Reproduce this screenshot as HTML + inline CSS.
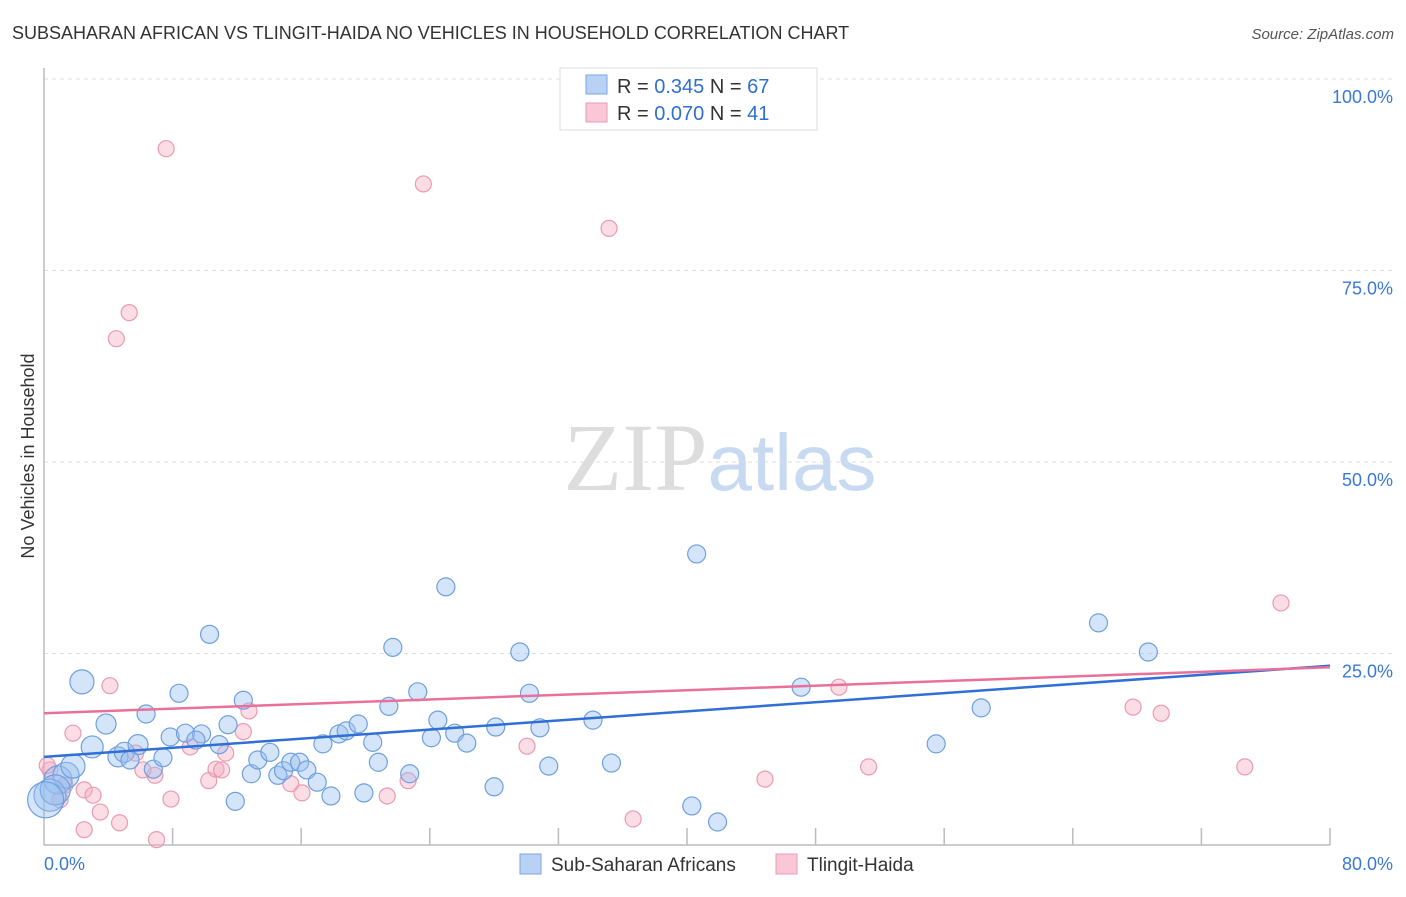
<!DOCTYPE html>
<html><head><meta charset="utf-8"><style>
body{margin:0;background:#fff;font-family:"Liberation Sans",sans-serif;}
svg text{font-family:"Liberation Sans",sans-serif;}
</style></head><body>
<svg id="chart" width="1406" height="892" xmlns="http://www.w3.org/2000/svg">
<text x="12" y="39" font-size="18" fill="#333">SUBSAHARAN AFRICAN VS TLINGIT-HAIDA NO VEHICLES IN HOUSEHOLD CORRELATION CHART</text>
<text x="1394" y="39" font-size="15" fill="#555" text-anchor="end" font-style="italic">Source: ZipAtlas.com</text>
<text x="720" y="490" font-size="96" text-anchor="middle"><tspan fill="#ddd" font-family="Liberation Serif">ZIP</tspan><tspan fill="#c8daf2" font-size="80">atlas</tspan></text>
<text transform="translate(34,456) rotate(-90)" font-size="18" fill="#333" text-anchor="middle">No Vehicles in Household</text>
<g id="grid"></g><g id="axes"></g><g id="pink"></g><g id="blue"></g><g id="trends"></g>
<g>
<rect x="560" y="68" width="257" height="62" fill="#fff" stroke="#ddd"/>
<rect x="586" y="75" width="21" height="19" fill="#b9d2f3" stroke="#7aa6e0"/>
<rect x="586" y="103" width="21" height="19" fill="#f9c7d5" stroke="#eb9ab2"/>
<text x="617" y="93" font-size="20" fill="#333">R = <tspan fill="#2e6fd0">0.345</tspan>   N = <tspan fill="#2e6fd0">67</tspan></text>
<text x="617" y="120" font-size="20" fill="#333">R = <tspan fill="#2e6fd0">0.070</tspan>   N = <tspan fill="#2e6fd0">41</tspan></text>
</g>
<g>
<rect x="520" y="854" width="21" height="20" fill="#b9d2f3" stroke="#7aa6e0"/>
<text x="551" y="871" font-size="19" fill="#333">Sub-Saharan Africans</text>
<rect x="776" y="854" width="21" height="20" fill="#f9c7d5" stroke="#eb9ab2"/>
<text x="807" y="871" font-size="19" fill="#333">Tlingit-Haida</text>
</g>
</svg>
<script>
const blueX=[2.36,3.86,6.35,8.4,10.3,12.4,3.0,4.6,5.0,5.85,5.35,6.8,7.4,7.85,8.8,9.8,9.45,10.9,11.45,12.9,13.3,14.05,14.55,14.9,15.35,15.9,16.35,17.0,17.35,17.85,18.35,18.8,19.55,19.9,20.45,20.8,21.45,21.7,22.75,23.25,24.1,24.5,25.0,25.55,26.3,28.0,28.1,29.6,30.2,30.85,31.4,34.15,35.3,40.3,40.6,41.9,47.1,55.5,58.3,65.6,68.7,11.9,0.87,1.37,1.8,0.37,0.7,0.1];
const blueY=[21.3,15.8,17.1,19.8,27.5,18.9,12.8,11.5,12.1,13.1,11.1,9.9,11.4,14.1,14.6,14.5,13.7,13.1,15.7,9.3,11.1,12.1,9.1,9.7,10.8,10.8,9.8,8.2,13.2,6.4,14.5,14.9,15.8,6.8,13.4,10.8,18.1,25.8,9.3,20.0,14.0,16.3,33.7,14.6,13.3,7.6,15.4,25.2,19.8,15.3,10.3,16.3,10.7,5.1,38.0,3.0,20.6,13.2,17.9,29.0,25.2,5.7,8.5,9.1,10.3,6.5,7.2,5.9];
const blueSize=[12,10,9,9,9,9,11,10,10,10,9,9,9,9,9,9,9,9,9,9,9,9,9,9,9,9,9,9,9,9,9,9,9,9,9,9,9,9,9,9,9,9,9,9,9,9,9,9,9,9,9,9,9,9,9,9,9,9,9,9,9,9,14,13,12,16,15,18];
const pinkX=[7.6,23.6,35.15,5.3,4.5,4.1,1.8,12.75,12.4,11.3,9.1,6.9,6.15,5.7,2.5,3.05,3.5,2.5,4.7,7.0,7.9,10.25,10.7,11.05,15.35,16.05,21.35,22.65,30.05,36.65,44.85,49.45,51.3,67.75,69.5,74.7,76.95,0.37,1.3,1.0,0.2];
const pinkY=[90.9,86.3,80.5,69.5,66.1,20.8,14.6,17.5,14.8,12.0,12.8,9.1,9.8,12.0,7.2,6.5,4.3,2.0,2.9,0.7,6.0,8.4,9.9,9.8,8.0,6.8,6.4,8.4,12.9,3.4,8.6,20.6,10.2,18.0,17.2,10.2,31.6,9.8,7.8,5.9,10.4];
const blueTrend=[11.5,23.4];
const pinkTrend=[17.2,23.2];
const yTicks=[25,50,75,100];
const yTickLabels=["25.0%","50.0%","75.0%","100.0%"];
const xTicks=[8,16,24,32,40,48,56,64,72,80];

const NS="http://www.w3.org/2000/svg";
const xs=v=>44+v*16.075;
const ys=v=>845-v*7.66;
function mk(tag,attrs,parent){const e=document.createElementNS(NS,tag);for(const k in attrs)e.setAttribute(k,attrs[k]);parent.appendChild(e);return e;}
const grid=document.getElementById('grid'),axes=document.getElementById('axes');
yTicks.forEach((t,i)=>{
 const l=mk('line',{x1:44,x2:1394,y1:ys(t),y2:ys(t),stroke:'#ddd','stroke-dasharray':'4,4'},grid);
 
 
 const tx=mk('text',{x:1393,y:ys(t)+24,'font-size':18,fill:'#3a78d6','text-anchor':'end'},axes);
 tx.textContent=yTickLabels[i];
 
 
});
const ya=mk('line',{x1:44,x2:44,y1:68,y2:845,stroke:'#bbb','stroke-width':1.5},axes);


const xa=mk('line',{x1:44,x2:1330,y1:845,y2:845,stroke:'#bbb','stroke-width':1.5},axes);


xTicks.forEach(t=>{
 const l=mk('line',{x1:xs(t),x2:xs(t),y1:828,y2:845,stroke:'#bbb','stroke-width':1.5},axes);
 
 
});
const x0=mk('text',{x:44,y:870,'font-size':18,fill:'#3a78d6'},axes);x0.textContent='0.0%';


const x1=mk('text',{x:1393,y:870,'font-size':18,fill:'#3a78d6','text-anchor':'end'},axes);x1.textContent='80.0%';


const pg=document.getElementById('pink');
pinkX.forEach((x,i)=>{
 const c=mk('circle',{cx:xs(x),cy:ys(pinkY[i]),r:8,fill:'rgba(246,170,192,0.4)',stroke:'#eb9ab2','stroke-width':1.2},pg);
 
 
});
const bg=document.getElementById('blue');
blueX.forEach((x,i)=>{
 const c=mk('circle',{cx:xs(x),cy:ys(blueY[i]),r:blueSize[i],fill:'rgba(150,190,240,0.4)',stroke:'#6f9fdf','stroke-width':1.2},bg);
 
 
});
const tg=document.getElementById('trends');
const tb=mk('line',{x1:xs(0),x2:xs(80),y1:ys(blueTrend[0]),y2:ys(blueTrend[1]),stroke:'#2f6fd6','stroke-width':2.5},tg);


const tp=mk('line',{x1:xs(0),x2:xs(80),y1:ys(pinkTrend[0]),y2:ys(pinkTrend[1]),stroke:'#e8709a','stroke-width':2.5},tg);


</script>
</body></html>
